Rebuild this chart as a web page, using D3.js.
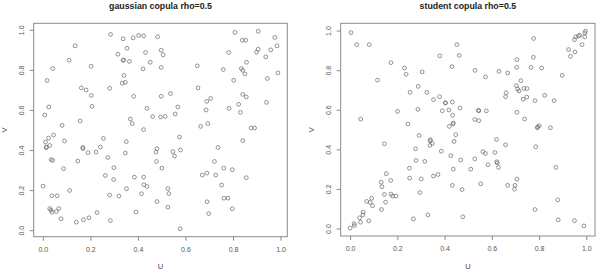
<!DOCTYPE html>
<html>
<head>
<meta charset="utf-8">
<script src="https://cdn.jsdelivr.net/npm/d3@7"></script>
<style>
  body { margin: 0; background: #fff; }
  svg { display: block; font-family: "Liberation Sans", Arial, sans-serif; }
  .box { fill: none; stroke: #8a8a8a; stroke-width: 1; }
  .pt { fill: none; stroke: #666; stroke-width: 0.7; }
  .axis text { fill: #555; font-size: 7px; }
  .axis line { stroke: #888; }
  .lab { fill: #444; font-size: 7.5px; }
  .title { fill: #222; font-size: 8.8px; font-weight: bold; }
</style>
</head>
<body>
<svg id="chart" width="600" height="273"></svg>
<script>
// values
var gaussU = [0.285,0.403,0.424,0.483,0.338,0.380,0.136,0.808,0.906,0.976,0.839,0.853,0.985,0.354,0.498,0.432,0.506,0.316,0.906,0.959,
  0.899,0.782,0.938,0.110,0.340,0.338,0.364,0.452,0.857,0.042,0.203,0.650,0.422,0.498,0.759,0.835,0.841,0.850,0.989,0.945,
  0.341,0.018,0.803,0.347,0.334,0.162,0.281,0.182,0.653,0.204,0.382,0.498,0.537,0.841,0.856,0.706,0.690,0.941,0.025,0.207,
  0.568,0.824,0.783,0.438,0.687,0.008,0.557,0.831,0.462,0.495,0.515,0.368,0.157,0.376,0.694,0.664,0.081,0.876,0.891,0.424,
  0.045,0.024,0.255,0.575,0.011,0.091,0.351,0.841,0.029,0.014,0.015,0.168,0.242,0.737,0.169,0.480,0.190,0.224,0.476,0.347,
  0.579,0.547,0.554,0.273,0.035,0.041,0.147,0.478,0.722,0.299,0.087,0.501,0.761,0.797,0.263,0.385,0.424,0.671,0.690,0.727,
  0.856,0.298,0.425,0.438,0.752,0.001,0.352,0.526,0.113,0.530,0.415,0.281,0.038,0.060,0.320,0.762,0.779,0.480,0.691,0.526,
  0.029,0.067,0.034,0.039,0.057,0.797,0.228,0.392,0.698,0.077,0.194,0.171,0.141,0.284,0.578];
var gaussV = [0.977,0.972,0.970,0.965,0.955,0.960,0.920,0.987,0.993,0.962,0.948,0.948,0.920,0.908,0.898,0.887,0.875,0.878,0.903,0.900,
  0.888,0.887,0.865,0.848,0.850,0.847,0.842,0.838,0.838,0.807,0.818,0.820,0.805,0.812,0.802,0.807,0.798,0.780,0.785,0.757,
  0.772,0.747,0.748,0.738,0.733,0.710,0.708,0.700,0.710,0.672,0.668,0.668,0.682,0.678,0.665,0.658,0.643,0.638,0.615,0.618,
  0.615,0.628,0.608,0.608,0.600,0.575,0.580,0.588,0.567,0.565,0.568,0.555,0.545,0.532,0.532,0.518,0.523,0.510,0.510,0.502,
  0.475,0.460,0.458,0.465,0.440,0.445,0.442,0.447,0.423,0.412,0.415,0.413,0.415,0.413,0.407,0.407,0.387,0.390,0.390,0.385,
  0.400,0.392,0.370,0.363,0.352,0.348,0.345,0.343,0.343,0.312,0.307,0.310,0.310,0.302,0.273,0.265,0.265,0.275,0.285,0.275,
  0.262,0.253,0.227,0.218,0.225,0.220,0.207,0.208,0.198,0.183,0.182,0.175,0.172,0.172,0.170,0.160,0.160,0.143,0.142,0.115,
  0.108,0.108,0.100,0.090,0.093,0.107,0.088,0.090,0.083,0.057,0.062,0.052,0.040,0.048,0.007];

var studentU = [0.004,0.028,0.081,0.173,0.230,0.237,0.305,0.116,0.452,0.380,0.462,0.431,0.254,0.288,0.325,0.379,0.353,0.404,0.403,0.433,
  0.201,0.287,0.390,0.418,0.434,0.045,0.245,0.420,0.437,0.435,0.465,0.777,0.997,0.994,0.972,0.967,0.955,0.950,0.993,0.982,
  0.925,0.952,0.933,0.706,0.776,0.630,0.667,0.529,0.573,0.705,0.766,0.811,0.898,0.723,0.704,0.709,0.715,0.736,0.749,0.748,
  0.733,0.783,0.824,0.864,0.661,0.658,0.545,0.543,0.577,0.528,0.545,0.706,0.739,0.794,0.793,0.801,0.848,0.292,0.340,0.339,
  0.348,0.338,0.145,0.277,0.386,0.426,0.279,0.316,0.437,0.372,0.353,0.251,0.252,0.301,0.295,0.433,0.132,0.135,0.172,0.153,
  0.145,0.150,0.173,0.180,0.194,0.133,0.070,0.085,0.091,0.095,0.055,0.054,0.040,0.044,0.079,0.017,0.018,0.000,0.268,0.329,
  0.447,0.440,0.620,0.658,0.786,0.562,0.573,0.613,0.468,0.528,0.584,0.621,0.623,0.628,0.511,0.871,0.706,0.667,0.698,0.696,
  0.553,0.474,0.879,0.783,0.477,0.881,0.950,0.990];
var studentV = [0.990,0.929,0.929,0.838,0.811,0.779,0.791,0.750,0.929,0.872,0.874,0.818,0.688,0.718,0.688,0.666,0.651,0.634,0.636,0.639,
  0.592,0.602,0.595,0.599,0.572,0.553,0.528,0.516,0.533,0.528,0.609,0.960,0.997,0.988,0.976,0.973,0.968,0.954,0.968,0.929,
  0.904,0.892,0.870,0.853,0.865,0.794,0.786,0.799,0.766,0.814,0.814,0.811,0.774,0.747,0.722,0.705,0.695,0.708,0.707,0.664,
  0.653,0.646,0.673,0.646,0.686,0.666,0.595,0.597,0.594,0.551,0.545,0.587,0.553,0.514,0.509,0.519,0.509,0.470,0.449,0.443,
  0.430,0.420,0.428,0.403,0.391,0.368,0.344,0.339,0.300,0.273,0.265,0.305,0.255,0.251,0.182,0.218,0.234,0.211,0.243,0.277,
  0.172,0.133,0.174,0.164,0.164,0.096,0.137,0.132,0.153,0.115,0.083,0.069,0.054,0.032,0.039,0.025,0.015,0.002,0.049,0.069,
  0.474,0.440,0.450,0.423,0.413,0.388,0.379,0.384,0.346,0.352,0.322,0.337,0.331,0.309,0.300,0.309,0.250,0.218,0.218,0.199,
  0.226,0.197,0.145,0.096,0.059,0.044,0.040,0.013];

var tickVals = [0, 0.2, 0.4, 0.6, 0.8, 1.0];
var titles = ["gaussian copula rho=0.5", "student copula rho=0.5"];
var xLabel = "U", yLabel = "V";

var svg = d3.select("#chart");

// R style: pad the data range by 4% on each side
function rDomain(vals) {
  var e = d3.extent(vals), p = (e[1] - e[0]) * 0.04;
  return [e[0] - p, e[1] + p];
}

function drawPanel(left, top, w, h, us, vs, title) {
  var g = svg.append("g").attr("transform", "translate(" + left + "," + top + ")");
  var x = d3.scaleLinear().domain(rDomain(us)).range([0, w]);
  var y = d3.scaleLinear().domain(rDomain(vs)).range([h, 0]);

  var xa = g.append("g").attr("class", "axis")
    .attr("transform", "translate(0," + h + ")")
    .call(d3.axisBottom(x).tickValues(tickVals).tickFormat(d3.format(".1f")).tickSize(4).tickPadding(6.3).tickSizeOuter(0));
  xa.select(".domain").remove();

  var ya = g.append("g").attr("class", "axis")
    .call(d3.axisLeft(y).tickValues(tickVals).tickFormat(d3.format(".1f")).tickSize(4).tickSizeOuter(0));
  ya.select(".domain").remove();
  ya.selectAll("text")
    .attr("transform", "rotate(-90)")
    .attr("x", 0).attr("y", -9.5).attr("dy", 0)
    .style("text-anchor", "middle");

  g.append("rect").attr("class", "box").attr("width", w).attr("height", h);

  g.selectAll("circle.pt").data(d3.zip(us, vs)).join("circle")
    .attr("class", "pt")
    .attr("cx", d => x(d[0]))
    .attr("cy", d => y(d[1]))
    .attr("r", 1.9);

  g.append("text").attr("class", "title")
    .attr("x", w / 2).attr("y", 9 - top)
    .attr("text-anchor", "middle").text(title);

  g.append("text").attr("class", "lab")
    .attr("x", w / 2).attr("y", 269.5 - top)
    .attr("text-anchor", "middle").text(xLabel);

  g.append("text").attr("class", "lab")
    .attr("transform", "translate(" + (-27) + "," + (h / 2) + ") rotate(-90)")
    .attr("text-anchor", "middle").text(yLabel);
}

drawPanel(33.7, 23.3, 253.6, 213.4, gaussU, gaussV, titles[0]);
drawPanel(340.7, 23.3, 254.3, 212.7, studentU, studentV, titles[1]);
</script>
</body>
</html>
